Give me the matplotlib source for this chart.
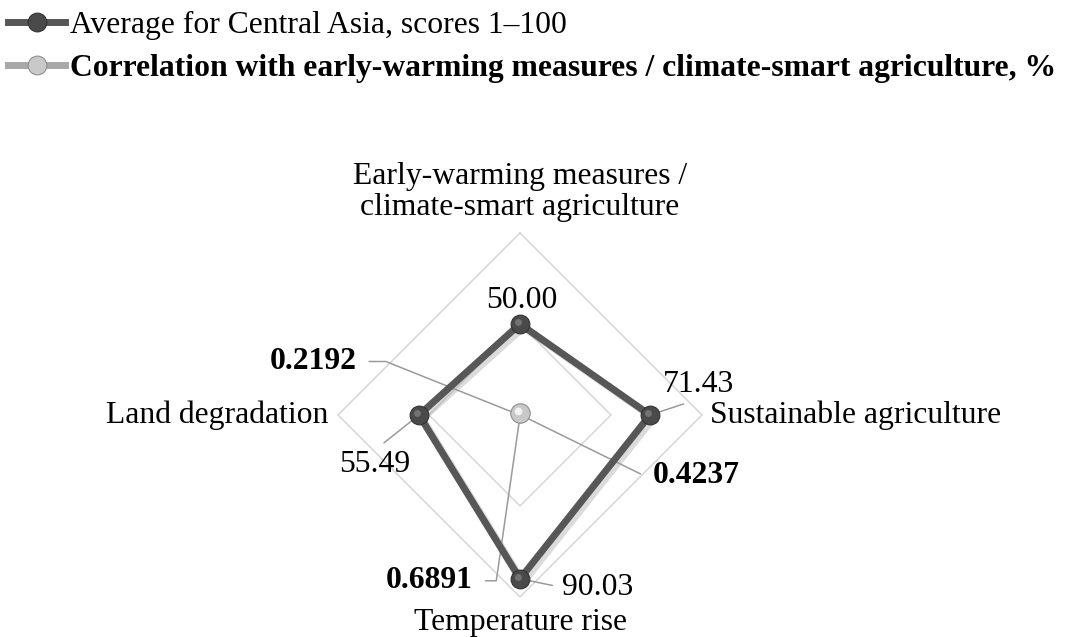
import numpy as np
import matplotlib
matplotlib.use('Agg')
import matplotlib.pyplot as plt
import matplotlib.patheffects as pe
import matplotlib.transforms as mtransforms
from matplotlib.lines import Line2D

plt.rcParams['font.family'] = ['Liberation Serif', 'DejaVu Serif']

# Данные

categories = ['Early-warming measures /\nclimate-smart agriculture',
              'Sustainable agriculture',
              'Temperature rise',
              'Land degradation']
avg_scores = [50.00, 71.43, 90.03, 55.49]
correlation = [1.0, 0.4237, 0.6891, 0.2192]
grid_levels = [50, 100]

series_names = ['Average for Central Asia, scores 1\u2013100',
                'Correlation with early-warming measures / climate-smart agriculture, %']

# Стили

FS = 22.8
dark = '#575757'
dark_face = '#4a4a4a'
light = '#a9a9a9'
light_face = '#c9c9c9'
leader = '#9a9a9a'
gridc = '#d6d6d6'

theta = np.deg2rad([0, 90, 180, 270])
theta_c = np.append(theta, theta[0])

fig = plt.figure(figsize=(10.72, 6.37), dpi=100)
ax = fig.add_axes([338 / 1072, 40 / 637, 364 / 1072, 364 / 637], projection='polar')
ax.set_theta_zero_location('N')
ax.set_theta_direction(-1)
ax.set_ylim(0, 100)
ax.axis('off')

for lvl in grid_levels:
    ax.plot(theta_c, [lvl] * 5, color=gridc, lw=1.1, clip_on=False, zorder=1)

# серия 1
ax.plot(theta_c, avg_scores + avg_scores[:1], color=dark, lw=5, clip_on=False, zorder=4,
        solid_joinstyle='miter',
        path_effects=[pe.SimpleLineShadow(offset=(2.5, -2.5), shadow_color='#9a9a9a', alpha=0.35),
                      pe.Normal()])
ax.plot(theta, avg_scores, ls='none', marker='o', ms=13.5, mfc=dark_face, mec='#333333',
        mew=0.8, clip_on=False, zorder=6)
hl = mtransforms.offset_copy(ax.transData, fig=fig, x=-2, y=2, units='dots')
ax.plot(theta, avg_scores, ls='none', marker='o', ms=5, mfc='#7d7d7d', mec='none',
        alpha=0.8, transform=hl, clip_on=False, zorder=7)

# серия 2
ax.plot(theta_c, correlation + correlation[:1], color=light, lw=5, clip_on=False, zorder=5)
ax.plot(theta[:1], correlation[:1], ls='none', marker='o', ms=14, mfc=light_face, mec='#8f8f8f',
        mew=0.8, clip_on=False, zorder=6)
ax.plot(theta[:1], correlation[:1], ls='none', marker='o', ms=5.5, mfc='#f2f2f2', mec='none',
        transform=hl, clip_on=False, zorder=7)

# подписи категорий
cat_pos = [(0, 11, 'center', 'bottom'),
           (8, -8, 'left', 'baseline'),
           (0, -33, 'center', 'baseline'),
           (-10, -8, 'right', 'baseline')]
for i, lab in enumerate(categories):
    dx, dy, ha, va = cat_pos[i]
    ax.annotate(lab, xy=(theta[i], 100), xytext=(dx, dy), textcoords='offset pixels',
                ha=ha, va=va, fontsize=FS, linespacing=1.1, annotation_clip=False)

# подписи значений серии 1
avg_pos = [(2, 16, 'center', None),
           (13, 23, 'left', (0.5, 0.0)),
           (42, -16, 'left', (0.0, 0.5)),
           (-44, -57, 'center', (0.5, 1.0))]
for i, v in enumerate(avg_scores):
    dx, dy, ha, rel = avg_pos[i]
    ap = None
    if rel is not None:
        ap = dict(arrowstyle='-', color=leader, lw=1.1, relpos=rel, shrinkA=5, shrinkB=0)
    ax.annotate('{:.2f}'.format(v), xy=(theta[i], v), xytext=(dx, dy),
                textcoords='offset pixels', ha=ha, va='baseline', fontsize=FS,
                arrowprops=ap, annotation_clip=False, zorder=3)

# подписи значений серии 2
cor_pos = {1: (132, -68, 'left', (0.0, 0.5), -26.2),
           2: (-47, -172, 'right', (1.0, 0.5), 81.8),
           3: (-163, 46, 'right', (1.0, 0.5), -21.8)}
for i, (dx, dy, ha, rel, angb) in cor_pos.items():
    ax.annotate('{:.4f}'.format(correlation[i]), xy=(theta[i], correlation[i]), xytext=(dx, dy),
                textcoords='offset pixels', ha=ha, va='baseline', fontsize=FS, fontweight='bold',
                arrowprops=dict(arrowstyle='-', color=leader, lw=1.1, relpos=rel, shrinkA=7,
                                shrinkB=0,
                                connectionstyle='angle,angleA=0,angleB={},rad=0'.format(angb)),
                annotation_clip=False, zorder=3)

# легенда
handles = [Line2D([], [], color=dark, lw=5, marker='o', ms=13.5, mfc=dark_face, mec='#333333', mew=0.8),
           Line2D([], [], color=light, lw=5, marker='o', ms=13.5, mfc=light_face, mec='#8f8f8f', mew=0.8)]
leg = fig.legend(handles, series_names, loc='upper left', bbox_to_anchor=(8 / 1072, 1 - 11 / 637),
                 frameon=False, fontsize=FS, handlelength=1.8, handletextpad=0.15,
                 labelspacing=0.42, borderpad=0, borderaxespad=0)
leg.get_texts()[1].set_fontweight('bold')

fig.savefig('out.png', dpi=100)
